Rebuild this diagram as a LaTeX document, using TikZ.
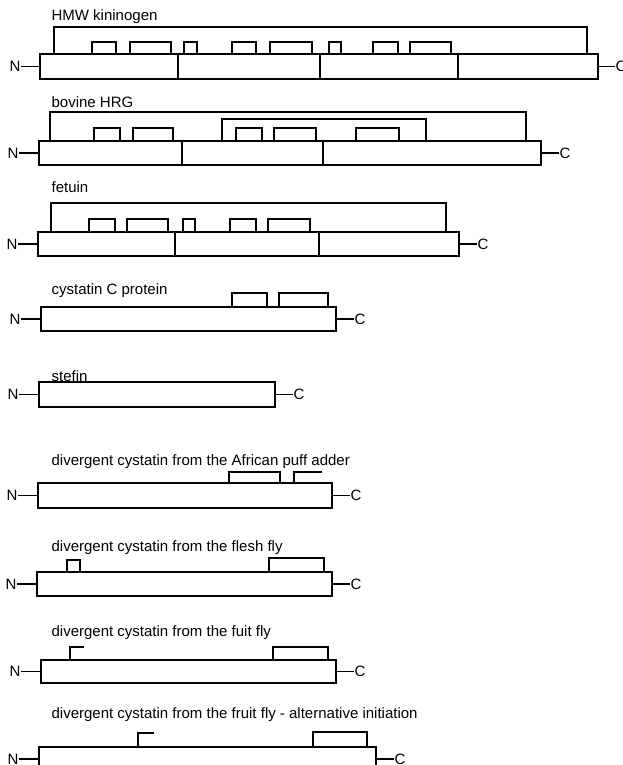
\documentclass[tikz,border=0pt]{standalone}
\usepackage{fontspec}
\setmainfont{Liberation Sans}
\usetikzlibrary{positioning}
\newcommand\protloop[4]{\draw (#1,#3) |- (#2,#4) -- (#2,#3);}
\newcommand\hook[4]{\draw (#1,#2) -- (#1,#3) -- (#4,#3);}
\begin{document}
\begin{tikzpicture}[x=1pt,y=-1pt,line width=1.2pt,
  pbox/.style={draw, inner sep=0pt, outer sep=0pt, anchor=north west},
  ttl/.style={anchor=base west, inner sep=0pt, font=\fontsize{15}{17}\selectfont},
  term/.style={inner sep=0pt, font=\fontsize{15}{17}\selectfont},
]
\useasboundingbox (0,0) rectangle (622,765);

% ---- HMW kininogen
\node[ttl] (t1) at (51,21) {HMW kininogen};
\node[pbox, minimum width=558pt, minimum height=25pt] (b1) at (40,54) {};
\draw (178,54) -- (178,79) (320,54) -- (320,79) (458,54) -- (458,79);
\protloop{54}{587}{54}{27}
\protloop{92}{116}{54}{42}
\protloop{130}{171}{54}{42}
\protloop{184}{197}{54}{42}
\protloop{232}{256}{54}{42}
\protloop{270}{312}{54}{42}
\protloop{329}{341}{54}{42}
\protloop{373}{398}{54}{42}
\protloop{410}{451}{54}{42}
\node[term, left=19pt of b1.west] (n1) {N};
\node[term, right=17pt of b1.east] (c1) {C};
\draw (n1) -- (b1) (b1) -- (c1);

% ---- bovine HRG
\node[ttl] (t2) at (51,107) {bovine HRG};
\node[pbox, minimum width=502pt, minimum height=24pt] (b2) at (39,141) {};
\draw (182,141) -- (182,165) (323,141) -- (323,165);
\protloop{50}{526}{141}{112}
\protloop{222}{426}{141}{119}
\protloop{94}{120}{141}{128}
\protloop{133}{173}{141}{128}
\protloop{236}{262}{141}{128}
\protloop{274}{316}{141}{128}
\protloop{356}{399}{141}{128}
\node[term, left=20pt of b2.west] (n2) {N};
\node[term, right=18pt of b2.east] (c2) {C};
\draw (n2) -- (b2) (b2) -- (c2);

% ---- fetuin
\node[ttl] (t3) at (51,192) {fetuin};
\node[pbox, minimum width=421pt, minimum height=24pt] (b3) at (38,232) {};
\draw (175,232) -- (175,256) (319,232) -- (319,256);
\protloop{51}{446}{232}{203}
\protloop{89}{115}{232}{219}
\protloop{127}{168}{232}{219}
\protloop{183}{195}{232}{219}
\protloop{230}{256}{232}{219}
\protloop{268}{310}{232}{219}
\node[term, left=20pt of b3.west] (n3) {N};
\node[term, right=18pt of b3.east] (c3) {C};
\draw (n3) -- (b3) (b3) -- (c3);

% ---- cystatin C protein
\node[ttl] (t4) at (51,294) {cystatin C protein};
\node[pbox, minimum width=295pt, minimum height=24pt] (b4) at (41,307) {};
\protloop{232}{267}{307}{293}
\protloop{279}{328}{307}{293}
\node[term, left=20pt of b4.west] (n4) {N};
\node[term, right=18pt of b4.east] (c4) {C};
\draw (n4) -- (b4) (b4) -- (c4);

% ---- stefin
\node[ttl] (t5) at (51,381) {stefin};
\node[pbox, minimum width=236pt, minimum height=25pt] (b5) at (39,382) {};
\node[term, left=20pt of b5.west] (n5) {N};
\node[term, right=18pt of b5.east] (c5) {C};
\draw (n5) -- (b5) (b5) -- (c5);

% ---- African puff adder
\node[ttl] (t6) at (51,465) {divergent cystatin from the African puff adder};
\node[pbox, minimum width=294pt, minimum height=25pt] (b6) at (38,483) {};
\protloop{229}{280}{483}{472}
\hook{294}{483}{472}{322}
\node[term, left=20pt of b6.west] (n6) {N};
\node[term, right=18pt of b6.east] (c6) {C};
\draw (n6) -- (b6) (b6) -- (c6);

% ---- flesh fly
\node[ttl] (t7) at (51,551) {divergent cystatin from the flesh fly};
\node[pbox, minimum width=295pt, minimum height=24pt] (b7) at (37,572) {};
\protloop{67}{80}{572}{560}
\protloop{269}{324}{572}{558}
\node[term, left=20pt of b7.west] (n7) {N};
\node[term, right=18pt of b7.east] (c7) {C};
\draw (n7) -- (b7) (b7) -- (c7);

% ---- fuit fly
\node[ttl] (t8) at (51,636) {divergent cystatin from the fuit fly};
\node[pbox, minimum width=295pt, minimum height=23pt] (b8) at (41,660) {};
\hook{70}{660}{647}{84}
\protloop{273}{328}{660}{647}
\node[term, left=20pt of b8.west] (n8) {N};
\node[term, right=18pt of b8.east] (c8) {C};
\draw (n8) -- (b8) (b8) -- (c8);

% ---- fruit fly, alternative initiation
\node[ttl] (t9) at (51,718) {divergent cystatin from the fruit fly - alternative initiation};
\node[pbox, minimum width=337pt, minimum height=24pt] (b9) at (39,747) {};
\hook{138}{747}{733}{154}
\protloop{313}{367}{747}{732}
\node[term, left=20pt of b9.west] (n9) {N};
\node[term, right=18pt of b9.east] (c9) {C};
\draw (n9) -- (b9) (b9) -- (c9);
\end{tikzpicture}
\end{document}
